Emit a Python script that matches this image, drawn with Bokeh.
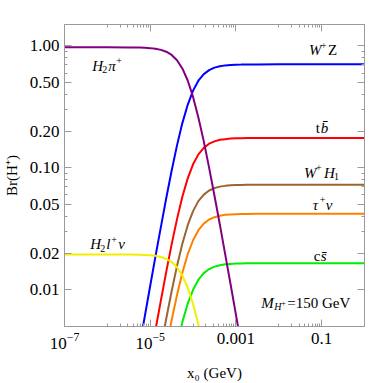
import math
from bokeh.plotting import figure
from bokeh.models import FixedTicker, LogAxis, PrintfTickFormatter, LogTickFormatter, Label, Range1d
from bokeh.embed import file_html
from bokeh.resources import INLINE

# x0 (GeV) sample points
x0 = [1e-7, 1e-6, 3.16e-6, 5.62e-6, 7.50e-6, 1e-5, 1.33e-5, 1.78e-5, 2.37e-5, 3.16e-5,
      4.22e-5, 5.62e-5, 7.50e-5, 1e-4, 1.33e-4, 1.78e-4, 2.37e-4, 3.16e-4, 4.22e-4,
      5.62e-4, 7.50e-4, 1e-3, 1.33e-3, 1.78e-3, 3.16e-3, 1e-2, 1e-1, 1.0]

br_h2pi = [0.975, 0.975, 0.973, 0.970, 0.966, 0.960, 0.949, 0.929, 0.897, 0.844, 0.764, 0.654,
           0.521, 0.382, 0.259, 0.165, 0.100, 0.0591, 0.0342, 0.0195, 0.0111, 0.00625, 0.00353,
           0.00199, 0.00063, 6.3e-5, 6.3e-7, 6.3e-9]
br_h2lnu = [0.0195, 0.0195, 0.0195, 0.0194, 0.0193, 0.0192, 0.0190, 0.0186, 0.0179, 0.0169,
            0.0153, 0.0131, 0.0104, 0.00764, 0.00519, 0.00330, 0.00201, 0.00118, 0.000684,
            0.00039, 0.000222, 0.000125, 7.06e-5, 3.98e-5, 1.27e-5, 1.26e-6, 1.26e-8, 1.26e-10]
br_wz = [1.10e-6, 1.10e-4, 1.10e-3, 3.45e-3, 6.10e-3, 0.0108, 0.0189, 0.0330, 0.0566, 0.0947,
         0.153, 0.233, 0.329, 0.430, 0.519, 0.588, 0.634, 0.664, 0.682, 0.693, 0.699, 0.703,
         0.704, 0.706, 0.706, 0.707, 0.707, 0.707]
br_tb = [2.73e-7, 2.73e-5, 2.73e-4, 8.59e-4, 1.52e-3, 2.69e-3, 4.72e-3, 8.22e-3, 0.0141, 0.0236,
         0.0380, 0.0579, 0.0820, 0.107, 0.129, 0.146, 0.158, 0.165, 0.170, 0.172, 0.174, 0.175,
         0.175, 0.176, 0.176, 0.176, 0.176, 0.176]
br_wh1 = [1.13e-7, 1.13e-5, 1.13e-4, 3.55e-4, 6.27e-4, 1.11e-3, 1.95e-3, 3.40e-3, 5.82e-3, 9.74e-3,
          0.0157, 0.0239, 0.0339, 0.0442, 0.0534, 0.0604, 0.0652, 0.0683, 0.0702, 0.0712, 0.0719,
          0.0723, 0.0724, 0.0726, 0.0726, 0.0727, 0.0727, 0.0727]
br_taunu = [6.5e-8, 6.5e-6, 6.5e-5, 2.05e-4, 3.62e-4, 6.43e-4, 1.13e-3, 1.96e-3, 3.36e-3, 5.63e-3,
            9.07e-3, 0.0138, 0.0196, 0.0255, 0.0308, 0.0349, 0.0377, 0.0394, 0.0405, 0.0412,
            0.0415, 0.0417, 0.0418, 0.0419, 0.042, 0.042, 0.042, 0.042]
br_cs = [2.6e-8, 2.6e-6, 2.6e-5, 8.05e-5, 1.42e-4, 2.52e-4, 4.42e-4, 7.71e-4, 1.32e-3, 2.21e-3,
         3.56e-3, 5.43e-3, 7.69e-3, 0.0100, 0.0121, 0.0137, 0.0148, 0.0155, 0.0159, 0.0162,
         0.0163, 0.0164, 0.0164, 0.0165, 0.0165, 0.0165, 0.0165, 0.0165]

x_ticks = [1e-7, 1e-5, 1e-3, 1e-1]
y_ticks = [0.01, 0.02, 0.05, 0.1, 0.2, 0.5, 1.0]
y_minor = [0.03, 0.04, 0.06, 0.07, 0.08, 0.09, 0.3, 0.4, 0.6, 0.7, 0.8, 0.9]
x_minor = [k * d for d in (1e-6, 1e-4, 1e-2) for k in range(1, 10)]

FONT = "Liberation Serif"
GREY = "#9a9a9a"

p = figure(width=374, height=383, x_axis_type="log", y_axis_type="log",
           x_range=Range1d(1e-7, 1.0), y_range=Range1d(0.005, 1.5),
           output_backend="svg", toolbar_location=None,
           min_border_left=62, min_border_right=10, min_border_top=24, min_border_bottom=57)
p.xgrid.visible = False
p.ygrid.visible = False
p.outline_line_color = GREY
p.background_fill_color = "white"
p.border_fill_color = "white"

xt = FixedTicker(ticks=x_ticks, minor_ticks=x_minor)
yt = FixedTicker(ticks=y_ticks, minor_ticks=y_minor)


def style(ax, labels=True):
    ax.axis_line_color = GREY
    ax.major_tick_line_color = GREY
    ax.minor_tick_line_color = GREY
    ax.major_tick_in = 7
    ax.major_tick_out = 0
    ax.minor_tick_in = 3
    ax.minor_tick_out = 0
    if labels:
        ax.major_label_text_font = FONT
        ax.major_label_text_font_size = "17px"
        ax.major_label_text_color = "black"
        ax.axis_label_text_font = FONT
        ax.axis_label_text_font_size = "15px"
        ax.axis_label_text_font_style = "normal"
        ax.axis_label_text_color = "black"
    else:
        ax.major_label_text_font_size = "1px"
        ax.major_label_text_alpha = 0
        ax.major_label_standoff = 0


p.xaxis.ticker = xt
p.xaxis.formatter = LogTickFormatter(min_exponent=4)
p.xaxis.major_label_standoff = 6
p.xaxis.axis_label = "x₀ (GeV)"
p.xaxis.axis_label_standoff = 13
style(p.xaxis[0])
p.yaxis.ticker = yt
p.yaxis.formatter = PrintfTickFormatter(format="%.2f")
p.yaxis.major_label_standoff = 5
p.yaxis.axis_label = "Br(H⁺)"
p.yaxis.axis_label_standoff = 7
style(p.yaxis[0])

top = LogAxis(ticker=xt)
style(top, labels=False)
p.add_layout(top, "above")
right = LogAxis(ticker=yt)
style(right, labels=False)
p.add_layout(right, "right")

series = [
    (br_wz, "#0000ff"),
    (br_tb, "#ff0000"),
    (br_wh1, "#996633"),
    (br_taunu, "#ff8000"),
    (br_cs, "#00ee00"),
    (br_h2lnu, "#f0f000"),
    (br_h2pi, "#800080"),
]
for ys, c in series:
    p.line(x0, ys, line_color=c, line_width=2)


def comp(x, y, pieces):
    # pieces: (text, dx, dy, size, style)
    for text, dx, dy, size, st in pieces:
        p.add_layout(Label(x=x, y=y, text=text, text_font=FONT, text_font_size=f"{size}px",
                           text_font_style=st, text_align="left", text_baseline="middle",
                           x_offset=dx, y_offset=dy, text_color="black"))


I, N = "italic", "normal"
comp(4.46e-7, 0.69, [("H", 0, 0, 15, I), ("2", 10, -4, 10, N), ("π", 16, 0, 15, I), ("+", 24, 5, 10, N)])
comp(4.0e-7, 0.0237, [("H", 0, 0, 15, I), ("2", 10, -4, 10, N), ("l", 16, 0, 15, I),
                      ("+", 21, 5, 10, N), ("ν", 28, 0, 15, I)])
comp(0.0504, 0.918, [("W", 0, 0, 15, I), ("+", 12, 5, 10, N), ("Z", 19, 0, 15, N)])
comp(0.0733, 0.214, [("t", 0, 0, 15, N), ("b̄", 5, 0, 15, I)])
comp(0.0385, 0.0916, [("W", 0, 0, 15, I), ("+", 12, 5, 10, N), ("H", 20, 0, 15, I), ("1", 30, -4, 10, N)])
comp(0.0624, 0.050, [("τ", 0, 0, 15, I), ("+", 7, 5, 10, N), ("ν", 13, 0, 15, I)])
comp(0.0657, 0.0191, [("c", 0, 0, 15, N), ("s̄", 7, 0, 15, I)])
comp(3.89e-3, 0.00785, [("M", 0, 0, 15, I), ("H", 13, -4, 10, I), ("+", 20, 0, 8, N),
                        ("=150 GeV", 26, 0, 15, N)])

open("out.html", "w").write(file_html(p, INLINE))
